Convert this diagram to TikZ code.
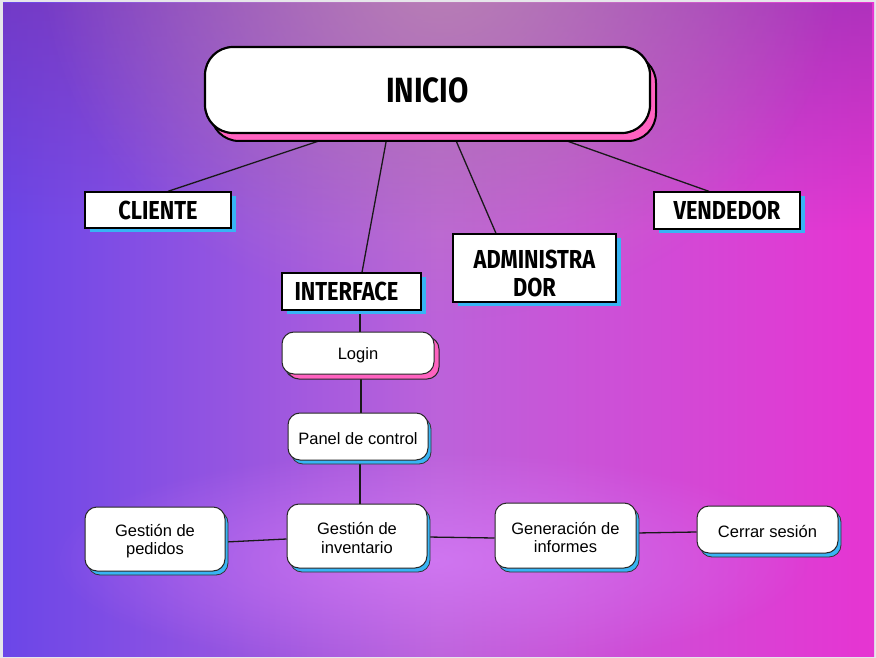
\documentclass[tikz,border=0pt]{standalone}
\usepackage{fontspec}
\setmainfont{Liberation Sans}
\newfontfamily\headfont{Fira Sans}[FakeStretch=0.84]
\usetikzlibrary{shadows,fadings,calc}
\definecolor{bgL}{HTML}{6B46E8}
\definecolor{bgR}{HTML}{E634D2}
\definecolor{bgMid}{HTML}{BC62DA}
\definecolor{topdark}{HTML}{7A2FA8}
\definecolor{mauve}{HTML}{BC86B4}
\definecolor{glow}{HTML}{D67CF8}
\definecolor{frame}{HTML}{E6E6EA}
\definecolor{sblue}{HTML}{38B4F4}
\definecolor{spink}{HTML}{FF62C0}
\tikzfading[name=topfade, top color=transparent!0, bottom color=transparent!100]
\tikzfading[name=radfade, inner color=transparent!0, outer color=transparent!100]
\newcommand\mydown{\rule{0pt}{16.5pt}}
\pgfdeclarelayer{bglayer}
\pgfdeclarelayer{linelayer}
\pgfsetlayers{bglayer,linelayer,main}
\begin{document}
\begin{tikzpicture}[x=1pt,y=-1pt,
  headbox/.style={rectangle, draw=black, line width=1.3pt, fill=white, inner sep=0pt,
    font=\headfont\bfseries\fontsize{26}{28}\selectfont, align=center,
    drop shadow={shadow xshift=4.5pt, shadow yshift=-4pt, fill=sblue, opacity=1}},
  roundbox/.style={rectangle, rounded corners=12pt, draw=black!85, line width=1pt, fill=white, inner sep=0pt,
    font=\fontsize{16.5}{18.5}\selectfont, align=center,
    drop shadow={shadow xshift=3pt, shadow yshift=-4pt, fill=sblue, opacity=1, draw=black!80, line width=0.8pt}},
  pinkshadow/.style={drop shadow={shadow xshift=5pt, shadow yshift=-5pt, fill=spink, opacity=1, draw=black!85, line width=1pt}},
  link/.style={draw=black!90, line width=1.3pt}
]
\useasboundingbox (0,0) rectangle (876,658);
\begin{pgfonlayer}{bglayer}
  \fill[frame] (0,0) rectangle (876,658);
  \begin{scope}
    \clip (3,3) rectangle (874,656);
    \shade[left color=bgL, right color=bgR, middle color=bgMid] (3,3) rectangle (874,656);
    \fill[topdark, opacity=0.5, path fading=topfade] (3,3) rectangle (874,230);
    \fill[mauve, opacity=0.95, path fading=radfade] (440,-40) ellipse [x radius=400pt, y radius=360pt];
    \fill[glow, opacity=0.75, path fading=radfade] (430,560) ellipse [x radius=380pt, y radius=110pt];
  \end{scope}
\end{pgfonlayer}

% nodes
\node[rectangle, rounded corners=28pt, draw=black, line width=2.2pt, fill=white, inner sep=0pt,
  minimum width=445pt, minimum height=86pt,
  font=\headfont\bfseries\fontsize{35}{35}\selectfont,
  drop shadow={shadow xshift=6pt, shadow yshift=-8pt, fill=spink, opacity=1, draw=black, line width=2pt}]
  (inicio) at (427.5,90) {INICIO};

\node[headbox, minimum width=146pt, minimum height=36pt] (cliente) at (158,210) {CLIENTE};
\node[headbox, minimum width=139pt, minimum height=37pt] (interface) at (351.5,291.5) {INTERFACE\hspace{10pt}};
\node[headbox, minimum width=163pt, minimum height=68pt] (admin) at (534.5,268) {\rule{0pt}{30pt}ADMINISTRA\\DOR\hspace{10pt}};
\node[headbox, minimum width=146pt, minimum height=37pt] (vendedor) at (727,210.5) {VENDEDOR};

\node[roundbox, pinkshadow, minimum width=152pt, minimum height=42pt] (login) at (358,353) {\mydown Login};
\node[roundbox, minimum width=140pt, minimum height=47pt] (panel) at (358,436.5) {\mydown Panel de control};
\node[roundbox, minimum width=140pt, minimum height=64pt] (pedidos) at (155,539) {\mydown Gestión de\\pedidos};
\node[roundbox, minimum width=140pt, minimum height=64pt] (inventario) at (357,536) {\mydown Gestión de\\inventario};
\node[roundbox, minimum width=141pt, minimum height=65pt] (informes) at (565.5,535.5) {\mydown Generación de\\informes};
\node[roundbox, minimum width=141pt, minimum height=47pt] (cerrar) at (767.5,529.5) {\mydown Cerrar sesión};

% connectors
\begin{pgfonlayer}{linelayer}
  \draw[link] ([xshift=-88pt]inicio.south) -- ([xshift=10pt]cliente.north);
  \draw[link] ([xshift=-40pt]inicio.south) -- ([xshift=10.5pt]interface.north);
  \draw[link] ([xshift=25.7pt]inicio.south) -- ([xshift=-38.5pt]admin.north);
  \draw[link] ([xshift=120pt]inicio.south) -- ([xshift=-18pt]vendedor.north);
  \draw[link] ([xshift=8.5pt]interface.south) -- ([xshift=2pt]login.north);
  \draw[link] ([xshift=3pt]login.south) -- ([xshift=3pt]panel.north);
  \draw[link] ([xshift=2pt]panel.south) -- ([xshift=3pt]inventario.north);
  \draw[link] ([yshift=-3pt]inventario.west) -- ([yshift=-3pt]pedidos.east);
  \draw[link] ([yshift=-1pt]inventario.east) -- ([yshift=-2.5pt]informes.west);
  \draw[link] ([yshift=2.5pt]informes.east) -- ([yshift=-2.5pt]cerrar.west);
\end{pgfonlayer}
\end{tikzpicture}
\end{document}
